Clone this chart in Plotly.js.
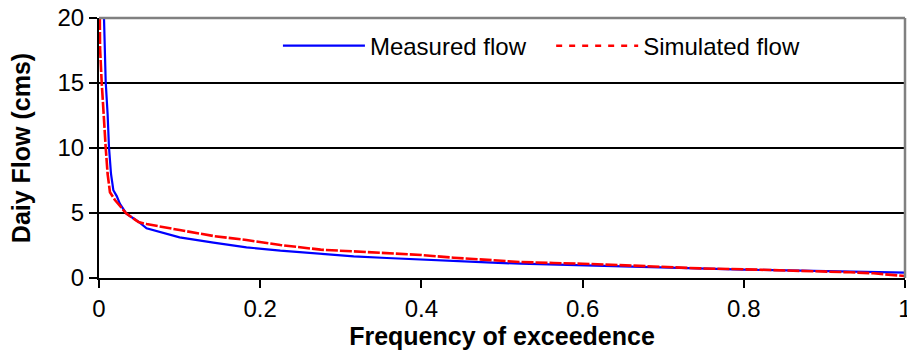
<!DOCTYPE html>
<html>
<head>
<meta charset="utf-8">
<script src="https://cdn.plot.ly/plotly-3.0.1.min.js"></script>
<style>html,body{margin:0;padding:0;background:#fff;}#chart{width:907px;height:352px;}</style>
</head>
<body>
<div id="chart"></div>
<script>
// Measured flow (blue) - frequency of exceedence vs daily flow (cms)
const measuredX = [0.0062, 0.0083, 0.0107, 0.0124, 0.0149, 0.0178, 0.022, 0.026, 0.034, 0.049, 0.059, 0.080, 0.100, 0.142, 0.183, 0.225, 0.275, 0.316, 0.357, 0.400, 0.440, 0.481, 0.523, 0.564, 0.600, 0.663, 0.705, 0.746, 0.800, 0.854, 0.904, 0.932, 0.961, 0.978, 1.000];
const measuredY = [20, 15.1, 12.6, 10.05, 8.0, 6.75, 6.3, 5.7, 4.95, 4.33, 3.82, 3.44, 3.13, 2.72, 2.36, 2.10, 1.84, 1.67, 1.54, 1.41, 1.31, 1.20, 1.10, 1.03, 0.96, 0.85, 0.79, 0.69, 0.64, 0.59, 0.54, 0.49, 0.46, 0.44, 0.41];
// Simulated flow (red)
const simulatedX = [0.0010, 0.0013, 0.0033, 0.0054, 0.0083, 0.0107, 0.0136, 0.0198, 0.028, 0.034, 0.049, 0.059, 0.100, 0.142, 0.183, 0.225, 0.275, 0.316, 0.357, 0.400, 0.440, 0.481, 0.523, 0.564, 0.600, 0.663, 0.705, 0.746, 0.800, 0.854, 0.904, 0.932, 0.961, 0.978, 1.000];
const simulatedY = [20, 17.7, 15.1, 12.6, 10.05, 8.0, 6.6, 6.0, 5.35, 4.95, 4.3, 4.15, 3.69, 3.23, 2.92, 2.54, 2.18, 2.05, 1.95, 1.77, 1.56, 1.38, 1.23, 1.15, 1.10, 0.95, 0.85, 0.74, 0.67, 0.59, 0.51, 0.44, 0.36, 0.28, 0.15];
const seriesNames = ["Measured flow", "Simulated flow"];
const xTickVals = [0, 0.2, 0.4, 0.6, 0.8, 1];
const xTickText = ["0", "0.2", "0.4", "0.6", "0.8", "1"];
const yTickVals = [0, 5, 10, 15, 20];
const yTickText = ["0", "5", "10", "15", "20"];
const xTitle = "Frequency of exceedence";
const yTitle = "Daiy Flow (cms)";

const FONT = "Liberation Sans, Arial, sans-serif";

const traces = [
  {x: measuredX, y: measuredY, type: "scatter", mode: "lines", name: seriesNames[0],
   line: {color: "#0000FF", width: 2.2}, legend: "legend"},
  {x: simulatedX, y: simulatedY, type: "scatter", mode: "lines", name: seriesNames[1],
   line: {color: "#FF0000", width: 2.6, dash: "12px,2px"}, showlegend: false},
  {x: [null], y: [null], type: "scatter", mode: "lines", name: seriesNames[1],
   line: {color: "#FF0000", width: 2.6, dash: "6px,7px"}, legend: "legend2", hoverinfo: "skip"}
];

const legendCommon = {
  orientation: "h", itemwidth: 82, bgcolor: "rgba(0,0,0,0)", borderwidth: 0,
  font: {family: FONT, size: 24, color: "#000"}, yanchor: "middle", xanchor: "left"
};

const layout = {
  width: 907, height: 352,
  margin: {l: 99, r: 2, t: 18, b: 74, pad: 0},
  paper_bgcolor: "#fff", plot_bgcolor: "#fff",
  font: {family: FONT, size: 24, color: "#000"},
  showlegend: true,
  legend: Object.assign({}, legendCommon, {x: 0.222, y: 0.892}),
  legend2: Object.assign({}, legendCommon, {x: 0.561, y: 0.892}),
  xaxis: {
    range: [0, 1], tickmode: "array", tickvals: xTickVals, ticktext: xTickText,
    showgrid: false, zeroline: false, ticklabeloverflow: "allow",
    showline: true, linecolor: "#000", linewidth: 2,
    ticks: "outside", ticklen: 8, tickwidth: 2, tickcolor: "#000",
    tickfont: {family: FONT, size: 24, color: "#000"},
    title: {text: xTitle, font: {family: FONT, size: 25, color: "#000", weight: "bold"}, standoff: 2}
  },
  yaxis: {
    range: [0, 20], tickmode: "array", tickvals: yTickVals, ticktext: yTickText,
    showgrid: true, gridcolor: "#000", gridwidth: 2,
    zeroline: false, showline: true, linecolor: "#000", linewidth: 2,
    ticks: "outside", ticklen: 8, tickwidth: 2, tickcolor: "#000",
    tickfont: {family: FONT, size: 24, color: "#000"},
    title: {text: yTitle, font: {family: FONT, size: 25, color: "#000", weight: "bold"}, standoff: 20}
  },
  shapes: [
    {type: "line", xref: "paper", yref: "paper", x0: 0, x1: 1, y0: 1, y1: 1, line: {color: "#808080", width: 2.5}, layer: "above"},
    {type: "line", xref: "paper", yref: "paper", x0: 1, x1: 1, y0: 0, y1: 1, line: {color: "#808080", width: 2.5}, layer: "above"}
  ]
};

Plotly.newPlot("chart", traces, layout, {staticPlot: true, displayModeBar: false});
</script>
</body>
</html>
